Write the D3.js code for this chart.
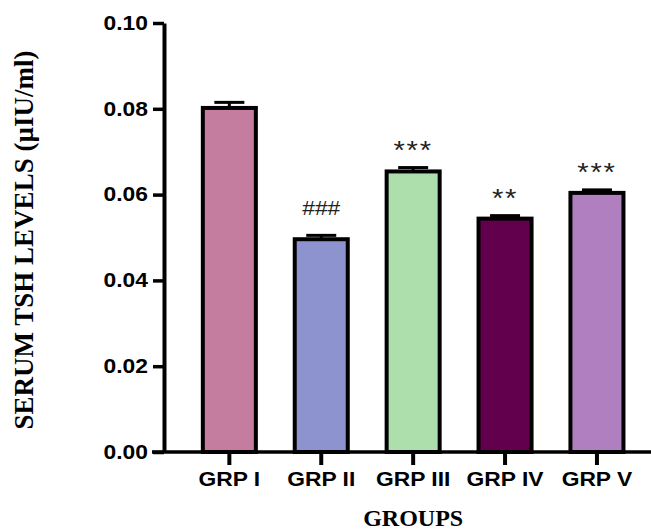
<!DOCTYPE html>
<html>
<head>
<meta charset="utf-8">
<script src="https://cdn.jsdelivr.net/npm/d3@7"></script>
<style>
body { margin: 0; background: #fff; }
svg { display: block; }
</style>
</head>
<body>
<svg id="chart" width="651" height="531"></svg>
<script>
// values
var groups = ['GRP I', 'GRP II', 'GRP III', 'GRP IV', 'GRP V'];
var means = [0.0802, 0.0496, 0.0654, 0.0544, 0.0604];
var errs = [0.0013, 0.0009, 0.0009, 0.0007, 0.0007];
var marks = ['', '###', '***', '**', '***'];
var colors = ['#c47d9e', '#8c93cf', '#acdfac', '#62004e', '#b07fbf'];
var yTicks = [0, 0.02, 0.04, 0.06, 0.08, 0.10];

var sx = 1.17; // the labels are a bit wider than the font
var labelFont = 'Liberation Sans, Arial, sans-serif';
var titleFont = 'Liberation Serif, Times New Roman, serif';

var svg = d3.select('#chart');

var y = d3.scaleLinear().domain([0, 0.10]).range([452, 23]);
var x = d3.scaleBand().domain(groups)
	.range([183.4, 642.9])
	.paddingInner(0.423)
	.paddingOuter(0.2115);

// y axis
var yAxis = svg.append('g')
	.attr('transform', 'translate(164,0)')
	.call(d3.axisLeft(y).tickValues(yTicks).tickSize(11).tickSizeOuter(0).tickPadding(5)
		.tickFormat(d3.format('.2f')));
yAxis.select('.domain').attr('stroke-width', 4);
yAxis.selectAll('.tick line').attr('stroke-width', 3.5);
yAxis.selectAll('.tick text')
	.attr('x', -16 / sx)
	.attr('transform', 'scale(' + sx + ',1)')
	.style('font-family', labelFont)
	.style('font-weight', 'bold')
	.style('font-size', '19.5px')
	.attr('fill', '#000');

// bars
svg.selectAll('rect.bar').data(groups).enter()
	.append('rect')
		.attr('class', 'bar')
		.attr('x', function(d){return x(d)})
		.attr('width', x.bandwidth())
		.attr('y', function(d, i){return y(means[i])})
		.attr('height', function(d, i){return y(0) - y(means[i])})
		.attr('fill', function(d, i){return colors[i]})
		.attr('stroke', '#000')
		.attr('stroke-width', 4);

// error bars (upper only)
function cx(d){return x(d) + x.bandwidth()/2}
var eb = svg.selectAll('g.err').data(groups).enter()
	.append('g').attr('class', 'err');
eb.append('line')
	.attr('x1', cx).attr('x2', cx)
	.attr('y1', function(d, i){return y(means[i])})
	.attr('y2', function(d, i){return y(means[i] + errs[i])})
	.attr('stroke', '#000').attr('stroke-width', 3);
eb.append('line')
	.attr('x1', function(d){return cx(d) - 15})
	.attr('x2', function(d){return cx(d) + 15})
	.attr('y1', function(d, i){return y(means[i] + errs[i])})
	.attr('y2', function(d, i){return y(means[i] + errs[i])})
	.attr('stroke', '#000').attr('stroke-width', 3);

// significance marks
function isHash(i){return marks[i].indexOf('#') >= 0}
svg.selectAll('text.mark').data(groups).enter()
	.append('text')
		.attr('class', 'mark')
		.attr('transform', function(d, i){
			var off = isHash(i) ? 20 : 9;
			return 'translate(' + cx(d) + ',' + (y(means[i] + errs[i]) - off) + ') scale(' + sx + ',1)';
		})
		.attr('text-anchor', 'middle')
		.style('font-family', labelFont)
		.style('font-size', function(d, i){return isHash(i) ? '19.5px' : '25px'})
		.style('letter-spacing', function(d, i){return isHash(i) ? '0px' : '1.5px'})
		.attr('fill', '#222')
		.text(function(d, i){return marks[i]});

// x axis
var xAxis = svg.append('g')
	.attr('transform', 'translate(0,452)')
	.call(d3.axisBottom(x).tickSize(13).tickSizeOuter(0).tickPadding(7));
xAxis.select('.domain').remove();
xAxis.append('line')
	.attr('x1', 152).attr('x2', 651)
	.attr('stroke', '#000').attr('stroke-width', 3.5);
xAxis.selectAll('.tick line').attr('stroke-width', 4);
xAxis.selectAll('.tick text')
	.attr('transform', 'scale(' + sx + ',1)')
	.style('font-family', labelFont)
	.style('font-weight', 'bold')
	.style('font-size', '19.5px')
	.attr('fill', '#000');

// axis titles
svg.append('text')
	.attr('x', (x.range()[0] + x.range()[1]) / 2).attr('y', 526)
	.attr('text-anchor', 'middle')
	.style('font-family', titleFont)
	.style('font-weight', 'bold')
	.style('font-size', '24px')
	.text('GROUPS');

svg.append('text')
	.attr('transform', 'translate(33,240) rotate(-90)')
	.attr('text-anchor', 'middle')
	.style('font-family', titleFont)
	.style('font-weight', 'bold')
	.style('font-size', '27px')
	.text('SERUM TSH LEVELS (µIU/ml)');
</script>
</body>
</html>
